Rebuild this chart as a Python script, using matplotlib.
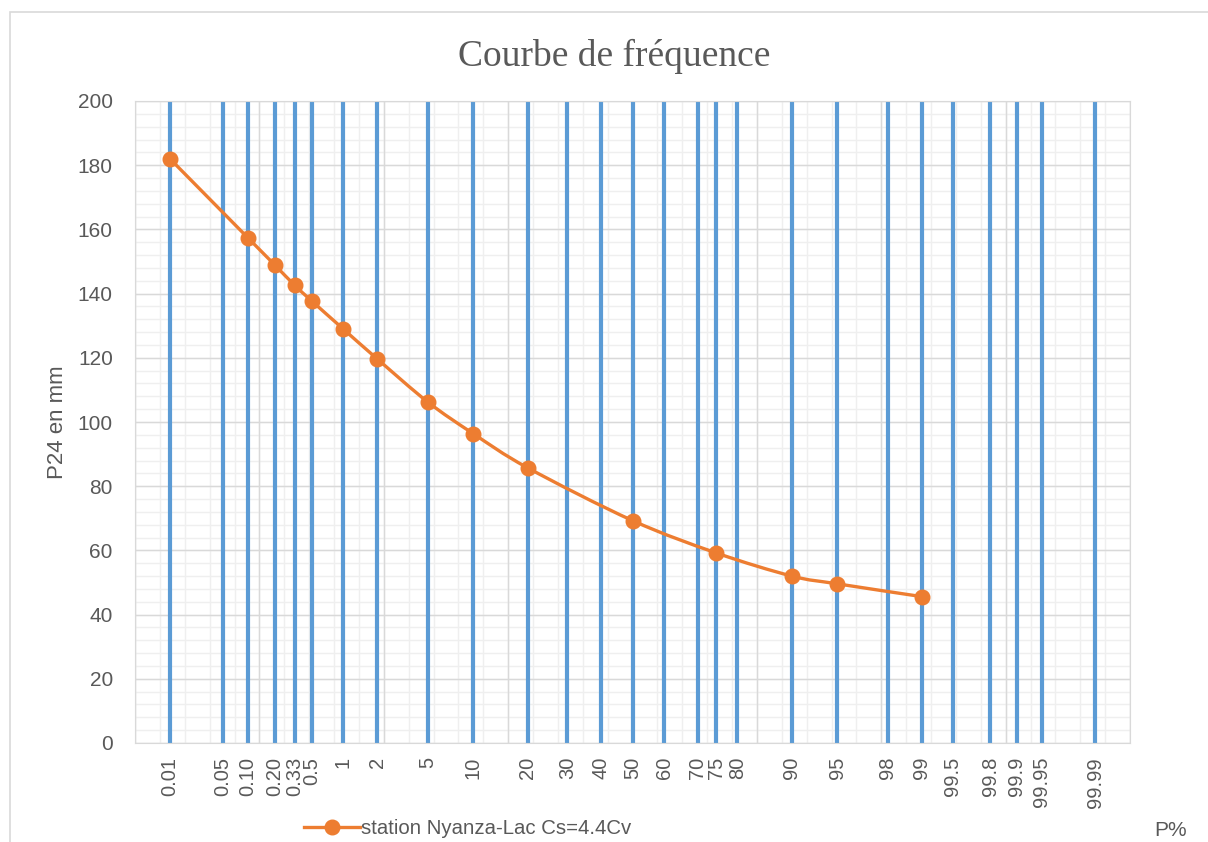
import numpy as np
import matplotlib.pyplot as plt
from matplotlib.path import Path
from matplotlib.patches import PathPatch, Rectangle
from matplotlib.lines import Line2D
from statistics import NormalDist

# probability labels on the normal-probability paper (in %)
grid_labels = ['0.01', '0.05', '0.10', '0.20', '0.33', '0.5', '1', '2', '5', '10', '20', '30',
               '40', '50', '60', '70', '75', '80', '90', '95', '98', '99', '99.5', '99.8',
               '99.9', '99.95', '99.99']

# observed frequency curve
p_percent = [0.01, 0.1, 0.2, 0.33, 0.5, 1, 2, 5, 10, 20, 50, 75, 90, 95, 99]
p24 = [182, 157.3, 149, 142.6, 137.6, 129, 119.7, 106.2, 96.4, 85.7, 69.3, 59.2, 52, 49.6, 45.6]

nd = NormalDist()


def u(p):
    return nd.inv_cdf(p / 100.0)


grid_u = [u(float(s)) for s in grid_labels]
xs = np.array([u(p) for p in p_percent])
ys = np.array(p24, dtype=float)

plt.rcParams['font.family'] = ['Liberation Sans', 'DejaVu Sans']
fig = plt.figure(figsize=(12.08, 8.42), dpi=100)
ax = fig.add_axes([135 / 1208, 1 - 743 / 842, 995 / 1208, 642 / 842])

# border of the chart area
fig.patches.append(Rectangle((10 / 1208, -0.1), 1.5, 1 - 12 / 842 + 0.1, transform=fig.transFigure,
                             fill=False, edgecolor='#D9D9D9', linewidth=1.2))

ax.set_xlim(-4, 4)
ax.set_ylim(0, 200)

# grid: minor then major
for gx in np.arange(-4, 4.001, 0.2):
    ax.axvline(gx, color='#EFEFEF', lw=1.0, zorder=0)
for gy in np.arange(0, 200.1, 4):
    ax.axhline(gy, color='#EFEFEF', lw=1.0, zorder=0)
for gx in np.arange(-4, 4.001, 1):
    ax.axvline(gx, color='#D9D9D9', lw=1.0, zorder=0.5)
for gy in np.arange(0, 200.1, 20):
    ax.axhline(gy, color='#D9D9D9', lw=1.0, zorder=0.5)

for gx in grid_u:
    ax.axvline(gx, color='#5B9BD5', lw=3.0, zorder=1)

# smoothed line (Catmull-Rom as Bezier segments)
pts = np.column_stack([xs, ys])
verts = [pts[0]]
codes = [Path.MOVETO]
n = len(pts)
for i in range(n - 1):
    p0 = pts[i - 1] if i > 0 else pts[i]
    p1 = pts[i]
    p2 = pts[i + 1]
    p3 = pts[i + 2] if i + 2 < n else pts[i + 1]
    c1 = p1 + (p2 - p0) / 6
    c2 = p2 - (p3 - p1) / 6
    verts += [c1, c2, p2]
    codes += [Path.CURVE4] * 3
ax.add_patch(PathPatch(Path(verts, codes), fill=False, edgecolor='#ED7D31', lw=2.4, zorder=3))
ax.plot(xs, ys, 'o', color='#ED7D31', markersize=10.5, zorder=4)

ax.set_xticks(grid_u)
ax.set_xticklabels(grid_labels, rotation=90, fontsize=14.5, color='#595959')
ax.set_yticks(np.arange(0, 201, 20))
ax.tick_params(axis='y', labelsize=15, labelcolor='#595959', length=0, pad=16)
ax.tick_params(axis='x', length=0, pad=10)
for s in ax.spines.values():
    s.set_color('#D9D9D9')

ax.set_ylabel('P24 en mm', fontsize=16, color='#595959', labelpad=7)
fig.text(614 / 1208, 1 - 56 / 842, 'Courbe de fréquence', fontsize=27, color='#595959',
         family='Liberation Serif', ha='center', va='center')

h = Line2D([], [], color='#ED7D31', lw=2.4, marker='o', markersize=10.5)
fig.legend([h], ['station Nyanza-Lac Cs=4.4Cv'], loc='center left', frameon=False,
           bbox_to_anchor=(286 / 1208, 1 - 829 / 842), fontsize=14.7, handlelength=2.7,
           handletextpad=0.05, labelcolor='#595959')
fig.text(1171 / 1208, 1 - 830 / 842, 'P%', fontsize=15, color='#595959', ha='center', va='center')

fig.savefig('out.png', dpi=100)
